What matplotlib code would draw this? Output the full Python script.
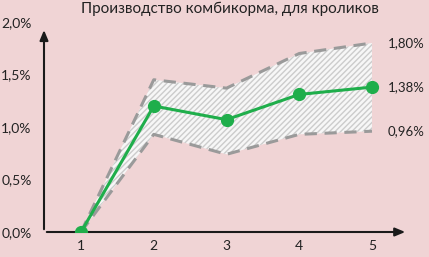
import matplotlib.pyplot as plt

x = [1, 2, 3, 4, 5]
mid = [0.0, 1.20, 1.07, 1.31, 1.38]
upper = [0.0, 1.45, 1.37, 1.70, 1.80]
lower = [0.0, 0.93, 0.74, 0.93, 0.96]
yticks = [0.0, 0.5, 1.0, 1.5, 2.0]
ylabels = ['0,0%', '0,5%', '1,0%', '1,5%', '2,0%']
end_labels = ['1,80%', '1,38%', '0,96%']
title = 'Производство комбикорма, для кроликов'

bg = '#f0d4d5'
plt.rcParams['font.family'] = ['Lato', 'DejaVu Sans']
plt.rcParams['hatch.color'] = '#cccccc'
plt.rcParams['hatch.linewidth'] = 1.0

fig = plt.figure(figsize=(4.29, 2.57), dpi=100, facecolor=bg)
W, H = 429, 257
ax = fig.add_axes([44 / W, 1 - 232 / H, (408 - 44) / W, (232 - 22) / H])
ax.set_facecolor(bg)
ax.set_xlim(0.491, 5.495)
ax.set_ylim(0, 2.0)

ax.fill_between(x, lower, upper, facecolor='#f7f7f7', hatch='//////', edgecolor='#cccccc', linewidth=0)
ax.plot(x, upper, color='#9a9a9a', lw=2.2, dashes=(4, 2.5))
ax.plot(x, lower, color='#9a9a9a', lw=2.2, dashes=(4, 2.5))
ax.plot(x, mid, color='#1fae4b', lw=2.2, marker='o', ms=8.5, zorder=5)

for s in ax.spines.values():
    s.set_visible(False)
ax.annotate('', xy=(0, 1.95), xytext=(0, 0), xycoords=('axes fraction', 'data'),
            arrowprops=dict(arrowstyle='-|>,head_length=0.6,head_width=0.25', color='#1a1a1a', lw=1.5))
ax.annotate('', xy=(1.0, 0), xytext=(0, 0), xycoords='axes fraction',
            arrowprops=dict(arrowstyle='-|>,head_length=0.6,head_width=0.25', color='#1a1a1a', lw=1.5))

ax.set_xticks(x)
ax.set_yticks(yticks)
ax.set_yticklabels(ylabels)
ax.tick_params(length=0, labelsize=10, colors='#222222')
ax.tick_params(axis='y', pad=9)
ax.tick_params(axis='x', pad=6)

for lab, v in zip(end_labels, [upper[-1], mid[-1], lower[-1]]):
    ax.text(5.22, v, lab, fontsize=9.5, color='#222222', va='center', ha='left')

fig.text(230 / W, 1 - 9 / H, title, fontsize=11, color='#222222', ha='center', va='center')
fig.savefig('out.png', dpi=100, facecolor=bg)
